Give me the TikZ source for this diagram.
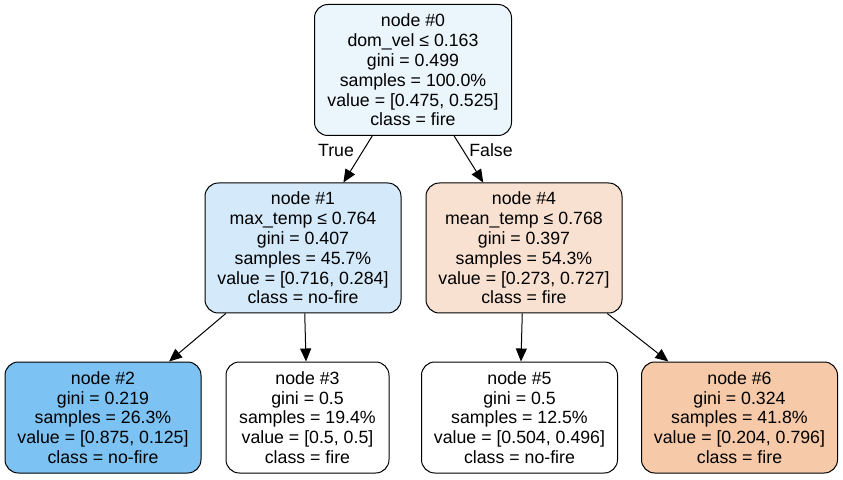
\documentclass[tikz,border=0pt]{standalone}
\usepackage{fontspec}
\setmainfont{Liberation Sans}
\usetikzlibrary{arrows.meta}

\definecolor{rootfill}{HTML}{EBF5FC}
\definecolor{leftfill}{HTML}{D4E9F9}
\definecolor{rightfill}{HTML}{F9E1D1}
\definecolor{nofirefill}{HTML}{7CC2F3}
\definecolor{firefill}{HTML}{F6CAA9}

\begin{document}
\begin{tikzpicture}[x=0.75pt, y=0.75pt,
    treenode/.style={draw, rounded corners=10pt, line width=0.75pt,
      align=center, inner sep=0pt, minimum width=147pt,
      minimum height=83.25pt, font=\fontsize{13.3}{14.85}\selectfont},
    split/.style={treenode, minimum height=97.5pt},
    edgelabel/.style={font=\fontsize{13.3}{14.85}\selectfont},
    -{Triangle[length=9.75pt, width=8.25pt]}, line width=0.75pt,
  ]
    \useasboundingbox (0, 0) rectangle (843, 479);

    \node[split, fill=rootfill, minimum width=147.75pt, minimum height=98.25pt] (n0) at (413, 409)
      {node \#0\\dom\_vel ≤ 0.163\\gini = 0.499\\samples = 100.0\%\\value = [0.475, 0.525]\\class = fire};
    \node[split, fill=leftfill]  (n1) at (303, 231)
      {node \#1\\max\_temp ≤ 0.764\\gini = 0.407\\samples = 45.7\%\\value = [0.716, 0.284]\\class = no-fire};
    \node[split, fill=rightfill] (n4) at (524, 231)
      {node \#4\\mean\_temp ≤ 0.768\\gini = 0.397\\samples = 54.3\%\\value = [0.273, 0.727]\\class = fire};
    \node[treenode, fill=nofirefill] (n2) at (103, 61.5)
      {node \#2\\gini = 0.219\\samples = 26.3\%\\value = [0.875, 0.125]\\class = no-fire};
    \node[treenode, fill=white, minimum width=122.25pt] (n3) at (307.5, 61.5)
      {node \#3\\gini = 0.5\\samples = 19.4\%\\value = [0.5, 0.5]\\class = fire};
    \node[treenode, fill=white] (n5) at (519.5, 61.5)
      {node \#5\\gini = 0.5\\samples = 12.5\%\\value = [0.504, 0.496]\\class = no-fire};
    \node[treenode, fill=firefill] (n6) at (739.5, 61.5)
      {node \#6\\gini = 0.324\\samples = 41.8\%\\value = [0.204, 0.796]\\class = fire};

    \node[edgelabel] (ltrue)  at (336, 329) {True};
    \node[edgelabel] (lfalse) at (491, 329) {False};

    \draw (n0) -- (n1);
    \draw (n0) -- (n4);
    \draw (n1) -- (n2);
    \draw (n1) -- (n3);
    \draw (n4) -- (n5);
    \draw (n4) -- (n6);
  \end{tikzpicture}
\end{document}
